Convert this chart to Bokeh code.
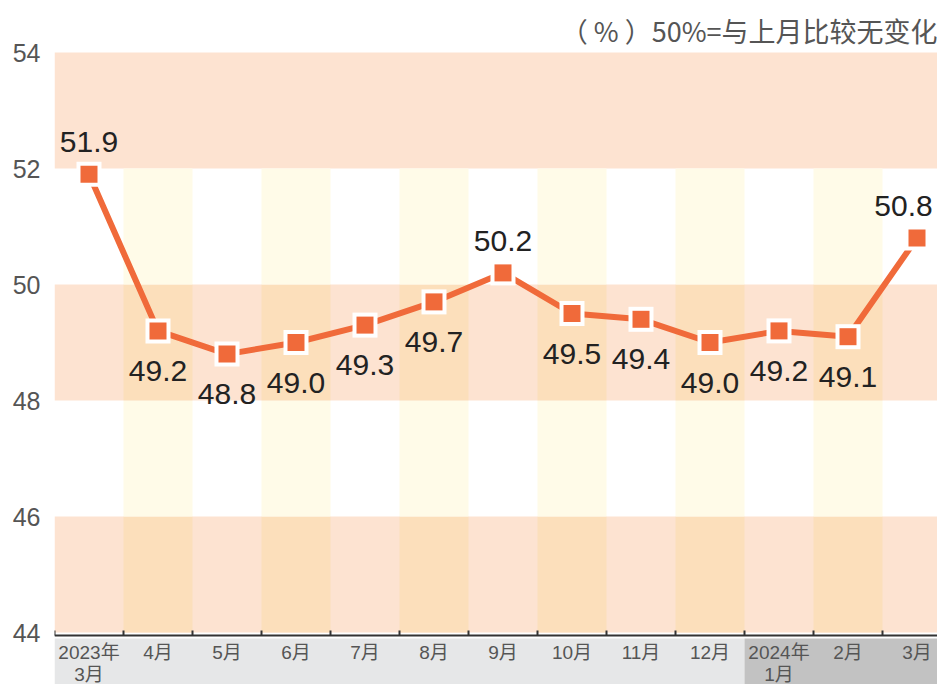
from bokeh.plotting import figure
from bokeh.embed import file_html
from bokeh.resources import INLINE
from bokeh.models import Range1d, FixedTicker, ColumnDataSource
from bokeh.core.properties import value

# ---- data ----
months = ["2023年\n3月", "4月", "5月", "6月", "7月", "8月", "9月", "10月", "11月",
          "12月", "2024年\n1月", "2月", "3月"]
pmi = [51.9, 49.2, 48.8, 49.0, 49.3, 49.7, 50.2, 49.5, 49.4, 49.0, 49.2, 49.1, 50.8]
label_side = ["above", "below", "below", "below", "below", "below", "above",
              "below", "below", "below", "below", "below", "above"]
y_ticks = [44, 46, 48, 50, 52, 54]
peach_bands = [(44, 46), (48, 50), (52, 54)]
stripe_cols = [1, 3, 5, 7, 9, 11]
note = "（ % ）50%=与上月比较无变化"

# ---- layout ----
W, H = 937, 684
LEFT = 54
PX_X = 69.0
PX_Y = 58.0
x_start = -0.5
x_end = x_start + (W - LEFT) / PX_X
y_end = 54 + 52 / PX_Y
y_start = y_end - H / PX_Y

ORANGE = "#f06a3a"
PEACH = "#fde3d1"
STRIPE_W = "#fffbe8"
STRIPE_P = "#fcdfbb"
GREY_L = "#e6e7e8"
GREY_D = "#c2c2c2"
LAB_FONT = value("Liberation Sans, Noto Sans CJK SC")
HALF_LABEL = 34  # approx half width of a value label, px

p = figure(width=W, height=H, output_backend="svg", toolbar_location=None,
           x_range=Range1d(x_start, x_end), y_range=Range1d(y_start, y_end),
           x_axis_location=None, min_border=0, min_border_left=LEFT,
           outline_line_color=None, background_fill_color="white")
p.grid.visible = False

# horizontal peach bands
for lo, hi in peach_bands:
    p.quad(left=x_start, right=x_end, bottom=lo, top=hi, fill_color=PEACH, line_color=None)

# vertical stripes (44..52)
for c in stripe_cols:
    for lo, hi in [(44, 46), (46, 48), (48, 50), (50, 52)]:
        in_peach = (lo, hi) in peach_bands
        p.quad(left=c - 0.5, right=c + 0.5, bottom=lo, top=hi,
               fill_color=STRIPE_P if in_peach else STRIPE_W, line_color=None)

# grey label area
grey_top = 44 - 6 / PX_Y
split = months.index("2024年\n1月") - 0.5
p.quad(left=x_start, right=split, bottom=y_start, top=grey_top, fill_color=GREY_L, line_color=None)
p.quad(left=split, right=x_end, bottom=y_start, top=grey_top, fill_color=GREY_D, line_color=None)

# axis line and ticks
ax_y = 44 - 3 / PX_Y
p.segment(x0=[x_start], y0=[ax_y], x1=[x_end], y1=[ax_y], line_color="#333333", line_width=2)
tx = [i - 0.5 for i in range(len(months) + 1)]
p.segment(x0=tx, y0=[ax_y] * len(tx), x1=tx, y1=[ax_y + 5 / PX_Y] * len(tx),
          line_color="#333333", line_width=2)

# x tick labels
xs = list(range(len(months)))
p.text(x=xs, y=[44 - 9 / PX_Y] * len(xs), text=months, text_align="center",
       text_baseline="top", text_font=LAB_FONT, text_font_size="19px",
       text_color="#555555", text_line_height=1.05)

# line + markers
src = ColumnDataSource(dict(x=xs, y=pmi,
                            t=["%.1f" % v for v in pmi],
                            yo=[-32 if s == "above" else 40 for s in label_side],
                            xo=[min(0.0, (x_end - x) * PX_X - HALF_LABEL) for x in xs]))
p.line("x", "y", source=src, line_color=ORANGE, line_width=6)
p.scatter("x", "y", source=src, marker="square", size=25, fill_color="white", line_color=None)
p.scatter("x", "y", source=src, marker="square", size=17, fill_color=ORANGE, line_color=None)
p.text("x", "y", text="t", source=src, x_offset="xo", y_offset="yo", text_align="center",
       text_baseline="middle", text_font=LAB_FONT, text_font_size="30px",
       text_color="#222222")

# note
p.text(x=[x_end], y=[y_end - 30 / PX_Y], text=[note], text_align="right",
       text_baseline="middle", text_font=value("Noto Sans CJK SC"),
       text_font_size="27px", text_color="#555555")

# y axis
p.yaxis.ticker = FixedTicker(ticks=y_ticks)
p.yaxis.axis_line_color = None
p.yaxis.major_tick_line_color = None
p.yaxis.minor_tick_line_color = None
p.yaxis.major_label_standoff = 8
p.yaxis.major_label_text_font = "Liberation Sans"
p.yaxis.major_label_text_font_size = "25px"
p.yaxis.major_label_text_color = "#555555"

open("out.html", "w").write(file_html(p, INLINE))
